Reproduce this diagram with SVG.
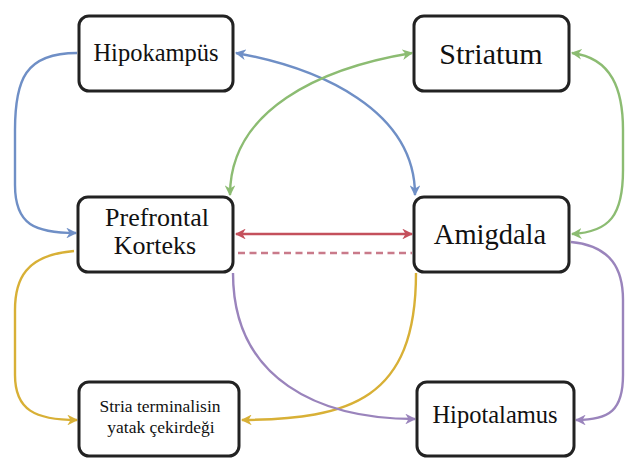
<svg xmlns="http://www.w3.org/2000/svg" width="625" height="461" viewBox="0 0 625 461">
<style>
.box{fill:#fff;stroke:#222;stroke-width:3}
.t{fill:#111;text-anchor:middle}
.c{fill:none;stroke-width:2.4}
.blue{stroke:#6f8fc6}
.green{stroke:#8cbc72}
.red{stroke:#c4505c}
.yellow{stroke:#d8b036}
.purple{stroke:#9a84bc}
</style>
<defs>
<marker id="ab" viewBox="0 0 10 10" refX="9" refY="5" markerWidth="4.5" markerHeight="4.5" orient="auto-start-reverse" markerUnits="strokeWidth"><path d="M0,0 L10,5 L0,10 L3,5 z" fill="#6f8fc6"/></marker>
<marker id="ag" viewBox="0 0 10 10" refX="9" refY="5" markerWidth="4.5" markerHeight="4.5" orient="auto-start-reverse" markerUnits="strokeWidth"><path d="M0,0 L10,5 L0,10 L3,5 z" fill="#8cbc72"/></marker>
<marker id="ar" viewBox="0 0 10 10" refX="9" refY="5" markerWidth="4.5" markerHeight="4.5" orient="auto-start-reverse" markerUnits="strokeWidth"><path d="M0,0 L10,5 L0,10 L3,5 z" fill="#c4505c"/></marker>
<marker id="ay" viewBox="0 0 10 10" refX="9" refY="5" markerWidth="4.5" markerHeight="4.5" orient="auto-start-reverse" markerUnits="strokeWidth"><path d="M0,0 L10,5 L0,10 L3,5 z" fill="#d8b036"/></marker>
<marker id="ap" viewBox="0 0 10 10" refX="9" refY="5" markerWidth="4.5" markerHeight="4.5" orient="auto-start-reverse" markerUnits="strokeWidth"><path d="M0,0 L10,5 L0,10 L3,5 z" fill="#9a84bc"/></marker>
</defs>
<rect width="625" height="461" fill="#fff"/>
<g id="connectors">
<path class="c blue" d="M77,53 C25,53 15,80 15,130 L15,185 C15,225 35,233 76,233" marker-end="url(#ab)"/>
<path class="c blue" d="M236,53 C320,68 415,110 415,195" marker-start="url(#ab)" marker-end="url(#ab)"/>
<path class="c green" d="M412,53 C320,68 230,110 230,195" marker-start="url(#ag)" marker-end="url(#ag)"/>
<path class="c green" d="M572,53 C612,58 623,90 623,130 L623,170 C623,215 610,232 572,234" marker-start="url(#ag)" marker-end="url(#ag)"/>
<path class="c red" d="M236,234 L412,234" marker-start="url(#ar)" marker-end="url(#ar)"/>
<path class="c" stroke="#c97a8a" stroke-dasharray="7 4.5" d="M238,253 L412,253"/>
<path class="c yellow" d="M74,251 C25,255 15,280 15,310 L15,375 C15,410 35,420 77,420" marker-end="url(#ay)"/>
<path class="c yellow" d="M416,273 C416,400 350,419 242,420" marker-end="url(#ay)"/>
<path class="c purple" d="M233,273 C233,380 320,419 415,419" marker-end="url(#ap)"/>
<path class="c purple" d="M571,242 C612,246 623,270 623,300 L623,375 C623,410 610,420 576,420" marker-end="url(#ap)"/>
</g>
<g id="hipokampus">
<rect class="box" x="79" y="16" width="154" height="75" rx="10"/>
<text class="t" font-family="'Liberation Serif', 'DejaVu Serif', serif" x="156" y="61" font-size="24.5">Hipokampüs</text>
</g>
<g id="striatum">
<rect class="box" x="414" y="16" width="155" height="75" rx="10"/>
<text class="t" font-family="'Liberation Serif', 'DejaVu Serif', serif" x="491" y="64" font-size="30">Striatum</text>
</g>
<g id="prefrontal">
<rect class="box" x="78" y="197" width="155" height="75" rx="10"/>
<text class="t" font-family="'Liberation Serif', 'DejaVu Serif', serif" x="157" y="226" font-size="26">Prefrontal</text>
<text class="t" font-family="'Liberation Serif', 'DejaVu Serif', serif" x="155" y="254" font-size="26">Korteks</text>
</g>
<g id="amigdala">
<rect class="box" x="414" y="197" width="155" height="75" rx="10"/>
<text class="t" font-family="'Liberation Serif', 'DejaVu Serif', serif" x="490" y="244" font-size="28.5">Amigdala</text>
</g>
<g id="stria">
<rect class="box" x="79" y="382" width="160" height="74" rx="10"/>
<text class="t" font-family="'Liberation Serif', 'DejaVu Serif', serif" x="160" y="412" font-size="17.5">Stria terminalisin</text>
<text class="t" font-family="'Liberation Serif', 'DejaVu Serif', serif" x="161" y="433" font-size="17.5">yatak çekirdeği</text>
</g>
<g id="hipotalamus">
<rect class="box" x="417" y="382" width="157" height="74" rx="10"/>
<text class="t" font-family="'Liberation Serif', 'DejaVu Serif', serif" x="495" y="423" font-size="24.5">Hipotalamus</text>
</g>
</svg>
